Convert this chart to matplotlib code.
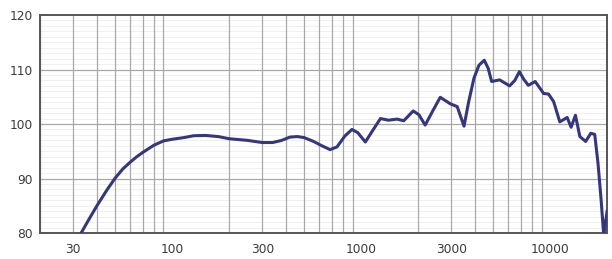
import matplotlib
matplotlib.use("Agg")
import matplotlib.pyplot as plt
import numpy as np

freq_hz = [33, 36, 40, 45, 50, 55, 60, 65, 70, 80, 90, 100, 115, 130, 150, 175, 200, 250,
           300, 340, 380, 420, 460, 500, 560, 620, 685, 745, 820, 894, 960, 1052,
           1150, 1265, 1395, 1547, 1680, 1885, 2020, 2180, 2400, 2620, 2965, 3220,
           3350, 3500, 3700, 3950, 4200, 4480, 4700, 4900, 5400, 6100, 6500, 6870,
           7250, 7660, 8330, 9230, 9800, 10430, 11240, 12300, 12900, 13600, 14350,
           15400, 16400, 17200, 17900, 18600, 19200, 19600, 20000]
spl_db = [80, 82.3, 85, 87.8, 90.1, 91.8, 93.0, 94.0, 94.8, 96.1, 96.9, 97.2, 97.5, 97.85, 97.9,
          97.7, 97.3, 97.0, 96.6, 96.6, 97.0, 97.6, 97.7, 97.5, 96.8, 96.0, 95.3,
          95.8, 97.8, 99.0, 98.4, 96.7, 98.8, 101.0, 100.7, 100.9, 100.6, 102.4,
          101.7, 99.8, 102.5, 104.9, 103.7, 103.2, 101.5, 99.6, 104.0, 108.4, 110.8,
          111.7, 110.2, 107.8, 108.1, 107.0, 108.0, 109.6, 108.2, 107.1, 107.8,
          105.6, 105.5, 104.1, 100.4, 101.2, 99.4, 101.6, 97.7, 96.8, 98.3, 98.1,
          92.8, 86.0, 79.5, 82.0, 84.0]

x_ticks = [30, 100, 300, 1000, 3000, 10000]
x_tick_labels = ["30", "100", "300", "1000", "3000", "10000"]
y_ticks = [80, 90, 100, 110, 120]

plt.rcParams['font.family'] = ['DejaVu Sans']

fig = plt.figure(figsize=(6.12, 2.59), dpi=100)
ax = fig.add_axes([0.0654, 0.1004, 0.9266, 0.8416])
ax.set_xscale('log')
ax.set_xlim(20, 20000)
ax.set_ylim(80, 120)

# grid
minor_x = [m * 10**d for d in range(1, 5) for m in range(2, 10) if 20 <= m * 10**d <= 20000]
for xv in minor_x:
    ax.axvline(xv, color='#a8a8a8', lw=0.9, zorder=1)
for yv in range(81, 120):
    if yv % 10:
        ax.axhline(yv, color='#ececec', lw=0.6, zorder=0.5)
for yv in [90, 100, 110]:
    ax.axhline(yv, color='#a8a8a8', lw=0.9, zorder=1)

ax.plot(freq_hz, spl_db, color='#36367c', lw=2.2, zorder=3, solid_joinstyle='round')

ax.set_xticks(x_ticks)
ax.set_xticklabels(x_tick_labels)
ax.xaxis.set_minor_locator(matplotlib.ticker.NullLocator())
ax.set_yticks(y_ticks)
ax.tick_params(length=0, labelsize=8.8, colors='#3a3a3a')
ax.tick_params(axis='x', pad=7)
ax.tick_params(axis='y', pad=5)
for s in ax.spines.values():
    s.set_color('#555555')
    s.set_linewidth(1.4)

fig.savefig("out.png", dpi=100)
